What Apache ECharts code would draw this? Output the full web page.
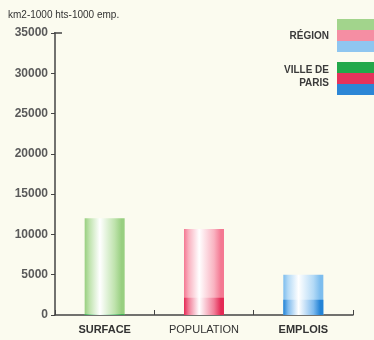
<!DOCTYPE html>
<html>
<head>
<meta charset="utf-8">
<script src="https://cdn.jsdelivr.net/npm/echarts@6/dist/echarts.min.js"></script>
<style>
  html, body { margin: 0; padding: 0; background: #fbfbef; }
  #chart { width: 374px; height: 340px; }
</style>
</head>
<body>
<div id="chart"></div>
<script>
// Île-de-France: whole region vs. Ville de Paris
const categories = ['SURFACE', 'POPULATION', 'EMPLOIS'];
const regionValues = [12012, 10660, 5000];   // km2 / milliers d'habitants / milliers d'emplois
const parisValues = [105, 2152, 1900];
const yTicks = [0, 5000, 10000, 15000, 20000, 25000, 30000, 35000];

const regionColors = ['#a2d48c', '#f58ea3', '#8fc6f0'];
const parisColors = ['#22a84a', '#e6325c', '#2c86d6'];

function cylinder(edge, mid) {
  return {
    type: 'linear', x: 0, y: 0, x2: 1, y2: 0,
    colorStops: [
      { offset: 0, color: edge },
      { offset: 0.12, color: mid },
      { offset: 0.38, color: '#ffffff' },
      { offset: 0.75, color: mid },
      { offset: 0.92, color: edge },
      { offset: 1, color: edge }
    ]
  };
}
const regionFill = [
  cylinder('#98cf80', '#bfe3ad'),
  cylinder('#f47892', '#f9b3c1'),
  cylinder('#7dbdee', '#b4daf6')
];
const parisFill = [
  cylinder('#1fa047', '#6cc785'),
  cylinder('#e42a55', '#f17f99'),
  cylinder('#2383d6', '#7fbbee')
];

const chart = echarts.init(document.getElementById('chart'));
const font = '"Liberation Sans", Arial, sans-serif';

const legendGraphics = [];
const swX = 337, swW = 40, swH = 11;
regionColors.forEach((c, i) => legendGraphics.push({
  type: 'rect', shape: { x: swX, y: 19 + i * swH, width: swW, height: swH }, style: { fill: c }
}));
parisColors.forEach((c, i) => legendGraphics.push({
  type: 'rect', shape: { x: swX, y: 62 + i * swH, width: swW, height: swH }, style: { fill: c }
}));
legendGraphics.push(
  { type: 'text', x: 329, y: 36, style: { text: 'RÉGION', fill: '#3a3a3a', font: 'bold 10px ' + font, align: 'right', verticalAlign: 'middle' } },
  { type: 'text', x: 329, y: 70, style: { text: 'VILLE DE', fill: '#3a3a3a', font: 'bold 10px ' + font, align: 'right', verticalAlign: 'middle' } },
  { type: 'text', x: 329, y: 83, style: { text: 'PARIS', fill: '#3a3a3a', font: 'bold 10px ' + font, align: 'right', verticalAlign: 'middle' } },
  { type: 'text', x: 8, y: 15, style: { text: 'km2-1000 hts-1000 emp.', fill: '#333', font: '10px ' + font, align: 'left', verticalAlign: 'middle' } },
  // short cap at the top of the value axis
  { type: 'line', shape: { x1: 54, y1: 33, x2: 62, y2: 33 }, style: { stroke: '#444', lineWidth: 1.5 } }
);

chart.setOption({
  backgroundColor: '#fbfbef',
  animation: false,
  grid: { left: 55, right: 21, top: 33, bottom: 25 },
  xAxis: {
    type: 'category',
    data: categories,
    axisLine: { lineStyle: { color: '#444', width: 1.5 } },
    axisTick: { show: true, inside: true, length: 5, lineStyle: { color: '#444' } },
    axisLabel: {
      interval: 0,
      margin: 9,
      formatter: (v) => v === 'POPULATION' ? '{n|' + v + '}' : '{b|' + v + '}',
      rich: {
        b: { fontFamily: font, fontSize: 11, fontWeight: 'bold', color: '#333' },
        n: { fontFamily: font, fontSize: 11, color: '#333' }
      }
    }
  },
  yAxis: {
    type: 'value',
    min: 0, max: 35000, interval: 5000,
    axisLine: { show: true, lineStyle: { color: '#444', width: 1.5 } },
    axisTick: { show: true, length: 4, lineStyle: { color: '#444' } },
    splitLine: { show: false },
    axisLabel: {
      margin: 7,
      fontFamily: font, fontSize: 12, fontWeight: 'bold', color: '#5a5a5a',
      formatter: (v) => String(v),
      customValues: yTicks
    }
  },
  series: [
    {
      name: 'Région',
      type: 'bar',
      barWidth: 40,
      barGap: '-100%',
      data: regionValues.map((v, i) => ({ value: v, itemStyle: { color: regionFill[i] } }))
    },
    {
      name: 'Ville de Paris',
      type: 'bar',
      barWidth: 40,
      barGap: '-100%',
      data: parisValues.map((v, i) => ({ value: v, itemStyle: { color: parisFill[i] } }))
    }
  ],
  graphic: legendGraphics
});
</script>
</body>
</html>
